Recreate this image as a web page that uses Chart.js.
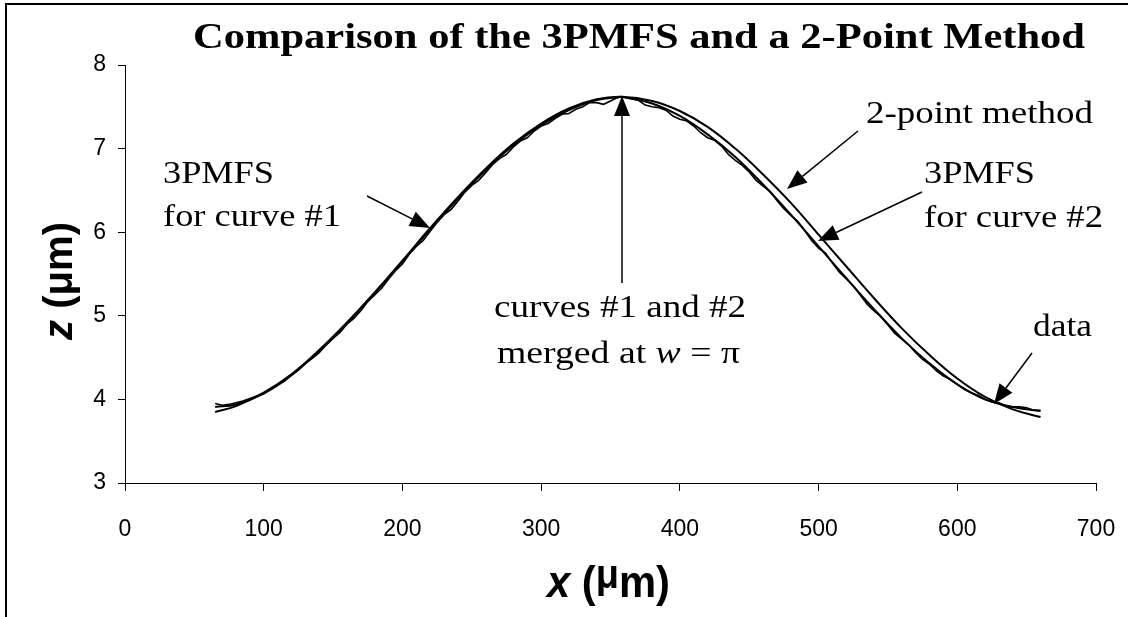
<!DOCTYPE html>
<html>
<head>
<meta charset="utf-8">
<script src="https://cdn.jsdelivr.net/npm/chart.js@4/dist/chart.umd.min.js"></script>
<style>
  html, body { margin: 0; padding: 0; background: #fff; }
  canvas { display: block; }
</style>
</head>
<body>
<canvas id="chart" width="1128" height="617"></canvas>
<script>
// Valeurs (x en µm, z en µm)

// mesures brutes (bruitées)
const dataX = [65, 70, 75, 80, 85, 90, 95, 100, 105, 110, 115, 120, 125, 130, 135, 140, 145, 150, 155, 160,
  165, 170, 175, 180, 185, 190, 195, 200, 205, 210, 215, 220, 225, 230, 235, 240, 245, 250, 255, 260,
  265, 270, 275, 280, 285, 290, 295, 300, 305, 310, 315, 320, 325, 330, 335, 340, 345, 350, 355, 358,
  365, 370, 375, 380, 385, 390, 395, 400, 405, 410, 415, 420, 425, 430, 435, 440, 445, 450, 455, 460,
  465, 470, 475, 480, 485, 490, 495, 500, 505, 510, 515, 520, 525, 530, 535, 540, 545, 550, 555, 560,
  565, 570, 575, 580, 585, 590, 595, 600, 605, 610, 615, 620, 625, 630, 635, 640, 645, 650, 655, 660];
const dataZ = [3.95, 3.93, 3.94, 3.96, 3.98, 4.01, 4.04, 4.07, 4.12, 4.17, 4.22, 4.29, 4.35, 4.43, 4.49, 4.56, 4.65, 4.73, 4.80, 4.90,
  4.97, 5.06, 5.17, 5.25, 5.33, 5.44, 5.54, 5.62, 5.74, 5.83, 5.90, 6.01, 6.12, 6.21, 6.27, 6.37, 6.48, 6.56, 6.62, 6.71,
  6.81, 6.88, 6.93, 7.02, 7.09, 7.13, 7.21, 7.27, 7.30, 7.36, 7.41, 7.42, 7.47, 7.50, 7.55, 7.55, 7.53, 7.57, 7.61, 7.62,
  7.60, 7.58, 7.52, 7.50, 7.49, 7.46, 7.39, 7.35, 7.33, 7.27, 7.19, 7.13, 7.10, 7.03, 6.93, 6.86, 6.80, 6.72, 6.62, 6.55,
  6.49, 6.38, 6.28, 6.20, 6.13, 6.02, 5.90, 5.81, 5.75, 5.63, 5.52, 5.44, 5.36, 5.25, 5.14, 5.06, 4.99, 4.89, 4.79, 4.72,
  4.65, 4.56, 4.48, 4.42, 4.34, 4.28, 4.24, 4.18, 4.12, 4.08, 4.05, 4.00, 3.97, 3.96, 3.92, 3.91, 3.91, 3.90, 3.87, 3.87];

// méthode à 2 points
const twoPointX = [65, 80, 100, 120, 140, 160, 180, 200, 220, 240, 260, 280, 300, 320, 340, 358,
  380, 400, 420, 440, 460, 480, 500, 520, 540, 560, 580, 600, 620, 640, 660];
const twoPointZ = [3.85, 3.92, 4.08, 4.30, 4.59, 4.92, 5.28, 5.66, 6.05, 6.42, 6.76, 7.06, 7.30, 7.48, 7.59, 7.62,
  7.57, 7.45, 7.26, 7.00, 6.69, 6.35, 5.97, 5.59, 5.21, 4.85, 4.53, 4.25, 4.03, 3.88, 3.79];

// 3PMFS, courbe #1 (moitié gauche)
const curve1X = [65, 80, 100, 120, 140, 160, 180, 200, 220, 240, 260, 280, 300, 320, 340, 358];
const curve1Z = [3.91, 3.94, 4.07, 4.29, 4.58, 4.91, 5.27, 5.65, 6.03, 6.40, 6.74, 7.04, 7.28, 7.46, 7.58, 7.62];

// 3PMFS, courbe #2 (moitié droite)
const curve2X = [358, 380, 400, 420, 440, 460, 480, 500, 520, 540, 560, 580, 600, 620, 640, 660];
const curve2Z = [7.62, 7.54, 7.39, 7.17, 6.90, 6.57, 6.21, 5.83, 5.45, 5.08, 4.73, 4.43, 4.18, 4.00, 3.91, 3.86];

const xMin = 0, xMax = 700, xStep = 100;
const zMin = 3, zMax = 8, zStep = 1;

const toPoints = (xs, zs) => xs.map((x, i) => ({ x: x, y: zs[i] }));

const SERIF = '"Liberation Serif", "Times New Roman", serif';
const SANS = '"Liberation Sans", Arial, sans-serif';

/**
 * Dessine un texte composé de plusieurs morceaux, étiré pour tenir dans la largeur voulue
 */
function drawParts(ctx, parts, x, y, targetWidth, align) {
  ctx.save();
  let total = 0;
  parts.forEach(p => {
    ctx.font = p.font;
    p.w = ctx.measureText(p.text).width;
    total += p.w;
  });
  const s = targetWidth / total;
  ctx.translate(x, y);
  ctx.scale(s, 1);
  ctx.textBaseline = 'alphabetic';
  ctx.textAlign = 'left';
  ctx.fillStyle = '#000';
  let cx = align === 'center' ? -total / 2 : 0;
  parts.forEach(p => {
    ctx.font = p.font;
    ctx.fillText(p.text, cx, p.dy || 0);
    cx += p.w;
  });
  ctx.restore();
}

function drawArrow(ctx, x1, y1, x2, y2) {
  const ang = Math.atan2(y2 - y1, x2 - x1);
  const len = 20, half = 8;
  const bx = x2 - len * Math.cos(ang), by = y2 - len * Math.sin(ang);
  ctx.save();
  ctx.strokeStyle = '#000';
  ctx.fillStyle = '#000';
  ctx.lineWidth = 1.5;
  ctx.beginPath();
  ctx.moveTo(x1, y1);
  ctx.lineTo(bx, by);
  ctx.stroke();
  ctx.beginPath();
  ctx.moveTo(x2, y2);
  ctx.lineTo(bx + half * Math.sin(ang), by - half * Math.cos(ang));
  ctx.lineTo(bx - half * Math.sin(ang), by + half * Math.cos(ang));
  ctx.closePath();
  ctx.fill();
  ctx.restore();
}

const annotations = {
  id: 'annotations',
  beforeDraw(chart) {
    const ctx = chart.ctx;
    ctx.save();
    ctx.fillStyle = '#fff';
    ctx.fillRect(0, 0, chart.width, chart.height);
    ctx.restore();
  },
  afterDraw(chart) {
    const ctx = chart.ctx;

    // cadre (bords gauche et haut visibles)
    ctx.save();
    ctx.strokeStyle = '#000';
    ctx.lineWidth = 2;
    ctx.beginPath();
    ctx.moveTo(6, chart.height);
    ctx.lineTo(6, 4);
    ctx.lineTo(chart.width, 4);
    ctx.stroke();
    ctx.restore();

    // titre
    drawParts(ctx, [{ text: 'Comparison of the 3PMFS and a 2-Point Method', font: 'bold 35px ' + SERIF }],
      193, 48, 892, 'left');

    // titres des axes
    drawParts(ctx, [
      { text: 'x', font: 'italic bold 44px ' + SANS },
      { text: ' (', font: 'bold 44px ' + SANS },
      { text: 'μ', font: 'bold 40px ' + SANS, dy: -9 },
      { text: 'm)', font: 'bold 44px ' + SANS }
    ], 547, 597, 123, 'left');

    ctx.save();
    ctx.translate(72, 281);
    ctx.rotate(-Math.PI / 2);
    drawParts(ctx, [
      { text: 'z', font: 'italic bold 40px ' + SANS },
      { text: ' (', font: 'bold 40px ' + SANS },
      { text: 'μ', font: 'bold 40px ' + SANS },
      { text: 'm)', font: 'bold 40px ' + SANS }
    ], 0, 0, 118, 'center');
    ctx.restore();

    // étiquettes
    const f = '31px ' + SERIF;
    drawParts(ctx, [{ text: '3PMFS', font: f }], 163, 183, 111, 'left');
    drawParts(ctx, [{ text: 'for curve #1', font: f }], 163, 226, 178, 'left');
    drawParts(ctx, [{ text: 'curves #1 and #2', font: f }], 494, 317, 252, 'left');
    drawParts(ctx, [
      { text: 'merged at ', font: f },
      { text: 'w', font: 'italic ' + f },
      { text: ' = π', font: f }
    ], 497, 363, 243, 'left');
    drawParts(ctx, [{ text: '2-point method', font: f }], 866, 123, 227, 'left');
    drawParts(ctx, [{ text: '3PMFS', font: f }], 924, 183, 111, 'left');
    drawParts(ctx, [{ text: 'for curve #2', font: f }], 924, 227, 179, 'left');
    drawParts(ctx, [{ text: 'data', font: f }], 1033, 336, 59, 'left');

    // flèches
    drawArrow(ctx, 367, 196, 430, 228);
    drawArrow(ctx, 622, 283, 622, 96);
    drawArrow(ctx, 858, 131, 787, 189);
    drawArrow(ctx, 922, 192, 818, 241);
    drawArrow(ctx, 1032, 353, 994, 404);
  }
};

const lineStyle = (width) => ({
  showLine: true,
  borderColor: '#000',
  backgroundColor: '#000',
  borderWidth: width,
  pointRadius: 0,
  fill: false
});

new Chart(document.getElementById('chart'), {
  type: 'scatter',
  data: {
    datasets: [
      Object.assign({ label: '2-point method', data: toPoints(twoPointX, twoPointZ), tension: 0.4 }, lineStyle(2)),
      Object.assign({ label: '3PMFS curve #1', data: toPoints(curve1X, curve1Z), tension: 0.4 }, lineStyle(2)),
      Object.assign({ label: '3PMFS curve #2', data: toPoints(curve2X, curve2Z), tension: 0.4 }, lineStyle(2)),
      Object.assign({ label: 'data', data: toPoints(dataX, dataZ), tension: 0 }, lineStyle(1.6))
    ]
  },
  options: {
    responsive: false,
    animation: false,
    layout: { padding: { top: 65, right: 32, left: 0, bottom: 0 } },
    plugins: {
      legend: { display: false },
      title: { display: false },
      tooltip: { enabled: false }
    },
    scales: {
      x: {
        type: 'linear',
        min: xMin,
        max: xMax,
        afterFit: (scale) => {
          scale.height = 134;
          scale.paddingLeft = 0;
          scale.paddingRight = 0;
        },
        ticks: {
          stepSize: xStep,
          color: '#000',
          padding: 25,
          maxRotation: 0,
          font: { family: SANS, size: 23 }
        },
        grid: { drawOnChartArea: false, drawTicks: true, tickLength: 8, color: '#000' },
        border: { display: true, color: '#000', width: 1 }
      },
      y: {
        type: 'linear',
        min: zMin,
        max: zMax,
        afterFit: (scale) => {
          scale.width = 125;
          scale.paddingTop = 0;
          scale.paddingBottom = 0;
        },
        ticks: {
          stepSize: zStep,
          color: '#000',
          padding: 12,
          font: { family: SANS, size: 23 }
        },
        grid: { drawOnChartArea: false, drawTicks: true, tickLength: 7, color: '#000' },
        border: { display: true, color: '#000', width: 1 }
      }
    }
  },
  plugins: [annotations]
});
</script>
</body>
</html>
